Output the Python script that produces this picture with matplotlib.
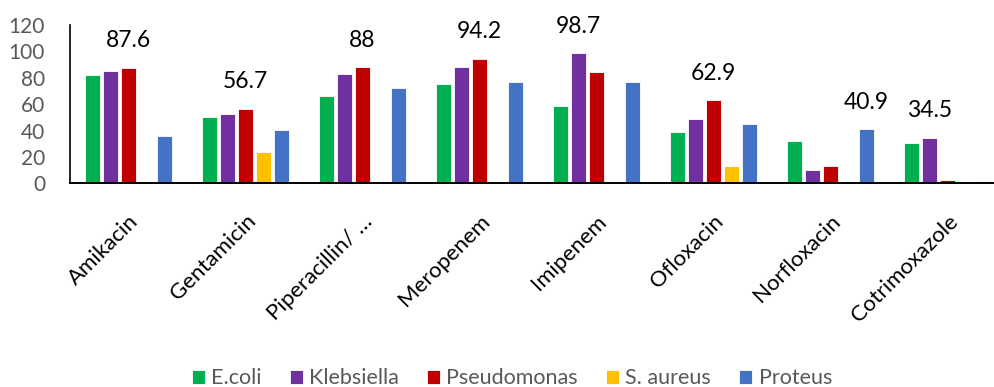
import numpy as np
import matplotlib
matplotlib.use("Agg")
import matplotlib.pyplot as plt

plt.rcParams['font.family'] = ['Lato', 'DejaVu Sans']

drugs = ['Amikacin', 'Gentamicin', 'Piperacillin/ …', 'Meropenem',
         'Imipenem', 'Ofloxacin', 'Norfloxacin', 'Cotrimoxazole']

ecoli = [82.0, 50.3, 66.1, 75.6, 58.5, 39.0, 31.9, 30.6]
klebsiella = [85.0, 52.6, 82.5, 88.3, 98.7, 48.6, 10.4, 34.5]
pseudomonas = [87.6, 56.7, 88.0, 94.2, 84.3, 62.9, 13.4, 2.5]
s_aureus = [0, 23.5, 0, 0, 0, 13.1, 0, 0]
proteus = [36.0, 40.5, 72.4, 76.9, 76.9, 45.0, 40.9, 2.0]

series_names = ['E.coli', 'Klebsiella', 'Pseudomonas', 'S. aureus', 'Proteus']
colors = ['#00B050', '#7030A0', '#C00000', '#FFC000', '#4472C4']

fig = plt.figure(figsize=(9.94, 3.87), dpi=100)
ax = fig.add_axes([70 / 994, 1 - 183.3 / 387, 936 / 994, 158.3 / 387])

x = np.arange(len(drugs))
step = 0.153
bar_w = 0.128
all_series = [ecoli, klebsiella, pseudomonas, s_aureus, proteus]
for i, (vals, name, c) in enumerate(zip(all_series, series_names, colors)):
    ax.bar(x + (i - 2) * step, vals, bar_w, color=c, label=name,
           edgecolor='white', linewidth=0.6, zorder=2)

# label the tallest bar of every group with its value
data = np.array(all_series)
for g in range(len(drugs)):
    k = int(np.argmax(data[:, g]))
    v = data[k, g]
    txt = f'{v:g}'
    ax.annotate(txt, (x[g] + (k - 2) * step, v), xytext=(0, 19.5),
                textcoords='offset points', ha='center', va='center',
                fontsize=16.5, color='black')

ax.set_xlim(-0.5, len(drugs) - 0.5)
ax.set_ylim(0, 120)
ax.set_yticks(range(0, 121, 20))
ax.tick_params(axis='y', length=0, pad=18, labelsize=15, labelcolor='#595959')
ax.tick_params(axis='x', length=0, pad=20)
ax.set_xticks(x)
ax.set_xticklabels(drugs, rotation=45, ha='right', rotation_mode='anchor',
                   fontsize=16, color='black')

for s in ['top', 'right']:
    ax.spines[s].set_visible(False)
ax.spines['left'].set_linewidth(1.2)
ax.spines['bottom'].set_linewidth(1.4)
ax.spines['bottom'].set_zorder(4)

leg = fig.legend(loc='center', bbox_to_anchor=(0.515, 0.022), ncol=5,
                 frameon=False, fontsize=15.5, handlelength=0.6,
                 handleheight=0.6, handletextpad=0.3, columnspacing=1.3,
                 labelcolor='#595959')

fig.savefig('out.png', dpi=100)
